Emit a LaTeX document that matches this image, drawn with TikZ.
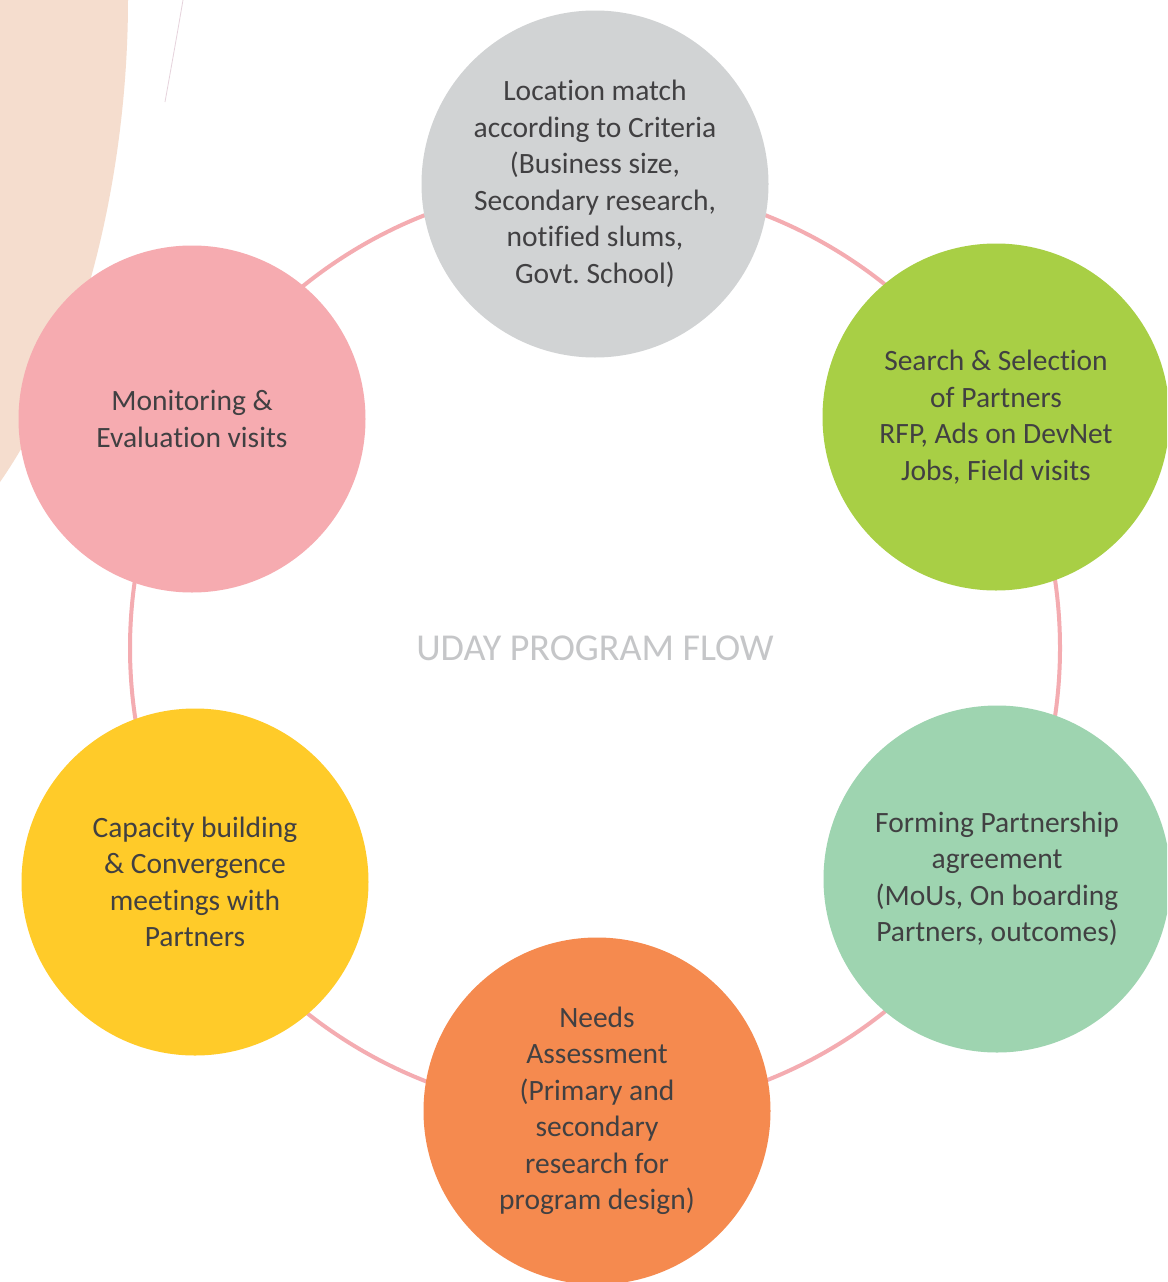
\documentclass[tikz,border=0pt]{standalone}
\usepackage{fontspec}
\setmainfont{Carlito}[Ligatures=NoCommon]
\frenchspacing
\definecolor{peach}{HTML}{F5DDCE}
\definecolor{ringc}{HTML}{F4ACB1}
\definecolor{cgray}{HTML}{D1D3D4}
\definecolor{cgreen}{HTML}{A8CF45}
\definecolor{cmint}{HTML}{9ED4B0}
\definecolor{corange}{HTML}{F58A4F}
\definecolor{cyellow}{HTML}{FFCB29}
\definecolor{cpink}{HTML}{F6ABB0}
\definecolor{txt}{HTML}{414042}
\definecolor{ttl}{HTML}{C5C6C8}
\definecolor{thinc}{HTML}{E6D3DC}
\begin{document}
\begin{tikzpicture}[x=1pt,y=-1pt,
  stage/.style={circle,minimum size=347pt,inner sep=0pt,align=center,text=txt,
    font={\fontsize{29.5}{36.5}\selectfont}}]
\useasboundingbox (0,0) rectangle (1167,1282);
\clip (0,0) rectangle (1167,1282);
\fill[white] (0,0) rectangle (1167,1282);
\fill[peach] (0,0) -- (128,0) .. controls (128,170) and (85,360) .. (0,482) -- cycle;
\draw[thinc,line width=0.8pt] (183,0) .. controls (177,35) .. (165,102);
\coordinate (ctr) at (595,648);
\draw[ringc,line width=4pt] (ctr) circle[radius=465];
\node[stage,fill=cgray] (loc) at (595,184) {Location match\\according to Criteria\\(Business size,\\Secondary research,\\notified slums,\\Govt. School)};
\node[stage,fill=cgreen] (search) at (996,417) {Search \& Selection\\of Partners\\RFP, Ads on DevNet\\Jobs, Field visits};
\node[stage,fill=cmint] (form) at (997,879) {Forming Partnership\\agreement\\(MoUs, On boarding\\Partners, outcomes)};
\node[stage,fill=corange] (needs) at (597,1111) {Needs\\Assessment\\(Primary and\\secondary\\research for\\program design)};
\node[stage,fill=cyellow] (cap) at (195,882) {Capacity building\\\& Convergence\\meetings with\\Partners};
\node[stage,fill=cpink] (mon) at (192,419) {Monitoring \&\\Evaluation visits};
\node[text=ttl,font={\fontsize{38}{46}\selectfont}] (title) at (ctr) {UDAY PROGRAM FLOW};
\end{tikzpicture}
\end{document}
